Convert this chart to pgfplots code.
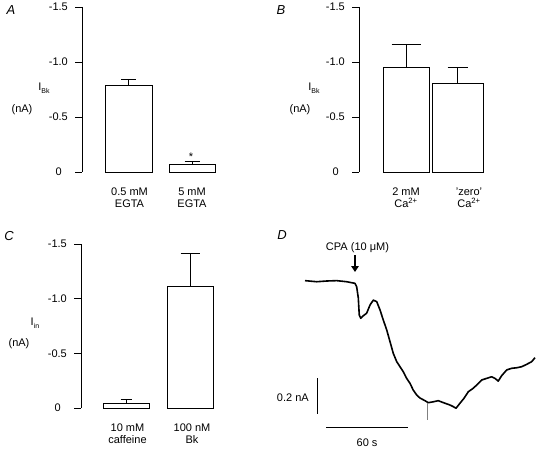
\documentclass[border=0pt]{standalone}
\usepackage{fontspec}
\setmainfont{Liberation Sans}
\usepackage{pgfplots}
\pgfplotsset{compat=1.18}
\usetikzlibrary{arrows.meta}

\pgfplotstableread{
t      I
0      0.002
8.6   -0.004
15.9   0.000
23.2   0.002
30.5  -0.004
36.6  -0.013
37.8  -0.032
39.0  -0.094
39.7  -0.189
40.8  -0.207
42.7  -0.193
45.1  -0.179
47.6  -0.133
50.0  -0.106
52.5  -0.115
54.9  -0.161
57.3  -0.217
59.8  -0.272
62.2  -0.337
64.6  -0.402
67.1  -0.448
69.5  -0.476
71.9  -0.504
74.4  -0.541
76.8  -0.568
79.2  -0.606
81.7  -0.633
84.1  -0.650
87.8  -0.665
90.2  -0.676
93.9  -0.671
97.5  -0.665
102.4 -0.679
106.1 -0.689
108.5 -0.698
110.5 -0.707
113.4 -0.679
116.3 -0.652
119.5 -0.615
123.1 -0.596
125.6 -0.578
129.3 -0.550
132.9 -0.541
136.6 -0.532
139.0 -0.541
141.4 -0.556
143.9 -0.526
147.6 -0.494
151.2 -0.485
154.9 -0.482
158.6 -0.476
162.2 -0.463
165.9 -0.448
168.3 -0.426
}\traceD

\pgfplotsset{
  barpanel/.style={
    scale only axis,
    y dir=reverse,
    ymin=-1.5, ymax=0,
    axis y line*=left,
    axis x line=none,
    ytick={-1.5,-1,-0.5,0},
    yticklabels={-1.5,-1.0,-0.5,0\hphantom{5}},
    tick align=outside,
    major tick length=7pt,
    ytick style={line width=0.8pt, black},
    axis line style={line width=0.8pt},
    clip=false,
    yticklabel style={font=\fontsize{11}{12}\selectfont, inner sep=0pt, xshift=-7pt},
  },
  barstyle/.style={ybar, bar width=#1, fill=white, draw=black, line width=0.8pt,
    error bars/y dir=minus, error bars/y explicit,
    error bars/error bar style={line width=0.8pt, black}},
  cap/.style={error bars/error mark options={black, line width=0.8pt, rotate=90, mark size=#1}},
}

\begin{document}
\begin{tikzpicture}[font=\fontsize{11}{12}\selectfont]
\path[use as bounding box] (0pt,0pt) rectangle (540pt,450pt);

% ---------- Panel A ----------
\begin{axis}[barpanel, at={(82pt,278pt)}, anchor=south west,
  width=148pt, height=165pt, xmin=82, xmax=230]
\addplot[barstyle=47, cap=7.5pt] coordinates {(128.5,-0.79) +- (0,0.05)};
\addplot[barstyle=46, cap=7.5pt] coordinates {(192,-0.072) +- (0,0.021)};
\node[anchor=base, inner sep=0pt] at (axis cs:191,-0.105) {*};
\node[anchor=north, align=center, inner sep=0pt] at (axis cs:129.5,0) [yshift=-16pt] {0.5 mM\\EGTA};
\node[anchor=north, align=center, inner sep=0pt] at (axis cs:192,0) [yshift=-16pt] {5 mM\\EGTA};
\end{axis}
\node at (11pt,440pt) {\fontsize{13}{14}\selectfont\itshape A};
\node at (44pt,362pt) {I\raisebox{-2.5pt}{\fontsize{7}{8}\selectfont Bk}};
\node at (22pt,340pt) {(nA)};

% ---------- Panel B ----------
\begin{axis}[barpanel, at={(359pt,278pt)}, anchor=south west,
  width=141pt, height=165pt, xmin=359, xmax=500]
\addplot[barstyle=46, cap=14.5pt] coordinates {(406,-0.948) +- (0,0.216)};
\addplot[barstyle=51, cap=10pt] coordinates {(457.5,-0.806) +- (0,0.142)};
\node[anchor=north, align=center, inner sep=0pt] at (axis cs:406,0) [yshift=-16pt] {2 mM\\Ca\textsuperscript{2+}};
\node[anchor=north, align=center, inner sep=0pt] at (axis cs:469,0) [yshift=-16pt] {'zero'\\Ca\textsuperscript{2+}};
\end{axis}
\node at (281pt,440pt) {\fontsize{13}{14}\selectfont\itshape B};
\node at (314pt,362pt) {I\raisebox{-2.5pt}{\fontsize{7}{8}\selectfont Bk}};
\node at (300pt,340pt) {(nA)};

% ---------- Panel C ----------
\begin{axis}[barpanel, at={(81pt,42pt)}, anchor=south west,
  width=149pt, height=164pt, xmin=81, xmax=230]
\addplot[barstyle=46, cap=5.5pt] coordinates {(126,-0.046) +- (0,0.034)};
\addplot[barstyle=46, cap=9.5pt] coordinates {(190,-1.113) +- (0,0.297)};
\node[anchor=north, align=center, inner sep=0pt] at (axis cs:127.5,0) [yshift=-16pt] {10 mM\\caffeine};
\node[anchor=north, align=center, inner sep=0pt] at (axis cs:192,0) [yshift=-16pt] {100 nM\\Bk};
\end{axis}
\node at (9pt,214pt) {\fontsize{13}{14}\selectfont\itshape C};
\node at (35pt,127pt) {I\raisebox{-2.5pt}{\fontsize{7}{8}\selectfont in}};
\node at (19pt,106pt) {(nA)};

% ---------- Panel D ----------
\begin{axis}[scale only axis, hide axis, clip=false,
  at={(305pt,7pt)}, anchor=south west,
  width=230pt, height=180pt, xmin=0, xmax=168.3, ymin=-0.9, ymax=0.1]
\addplot[black, line width=1.6pt, line join=round] table[x=t, y=I] {\traceD};
\addplot[gray, line width=0.5pt] coordinates {(89.3,-0.676) (89.3,-0.772)};
% scale bars
\addplot[black, line width=0.8pt] coordinates {(8.8,-0.539) (8.8,-0.739)};
\addplot[black, line width=0.8pt] coordinates {(15.4,-0.811) (75.4,-0.811)};
\node[anchor=east, inner sep=0pt] at (axis cs:2.9,-0.65) {0.2 nA};
\node at (axis cs:45.4,-0.9) {60 s};
\node at (axis cs:38.4,0.183) {CPA (10 μM)};
\draw[line width=1.6pt, -{Triangle[length=6pt,width=7.5pt]}] (axis cs:36.6,0.144) -- (axis cs:36.6,0.05);
\end{axis}
\node at (282pt,215pt) {\fontsize{13}{14}\selectfont\itshape D};
\end{tikzpicture}
\end{document}
